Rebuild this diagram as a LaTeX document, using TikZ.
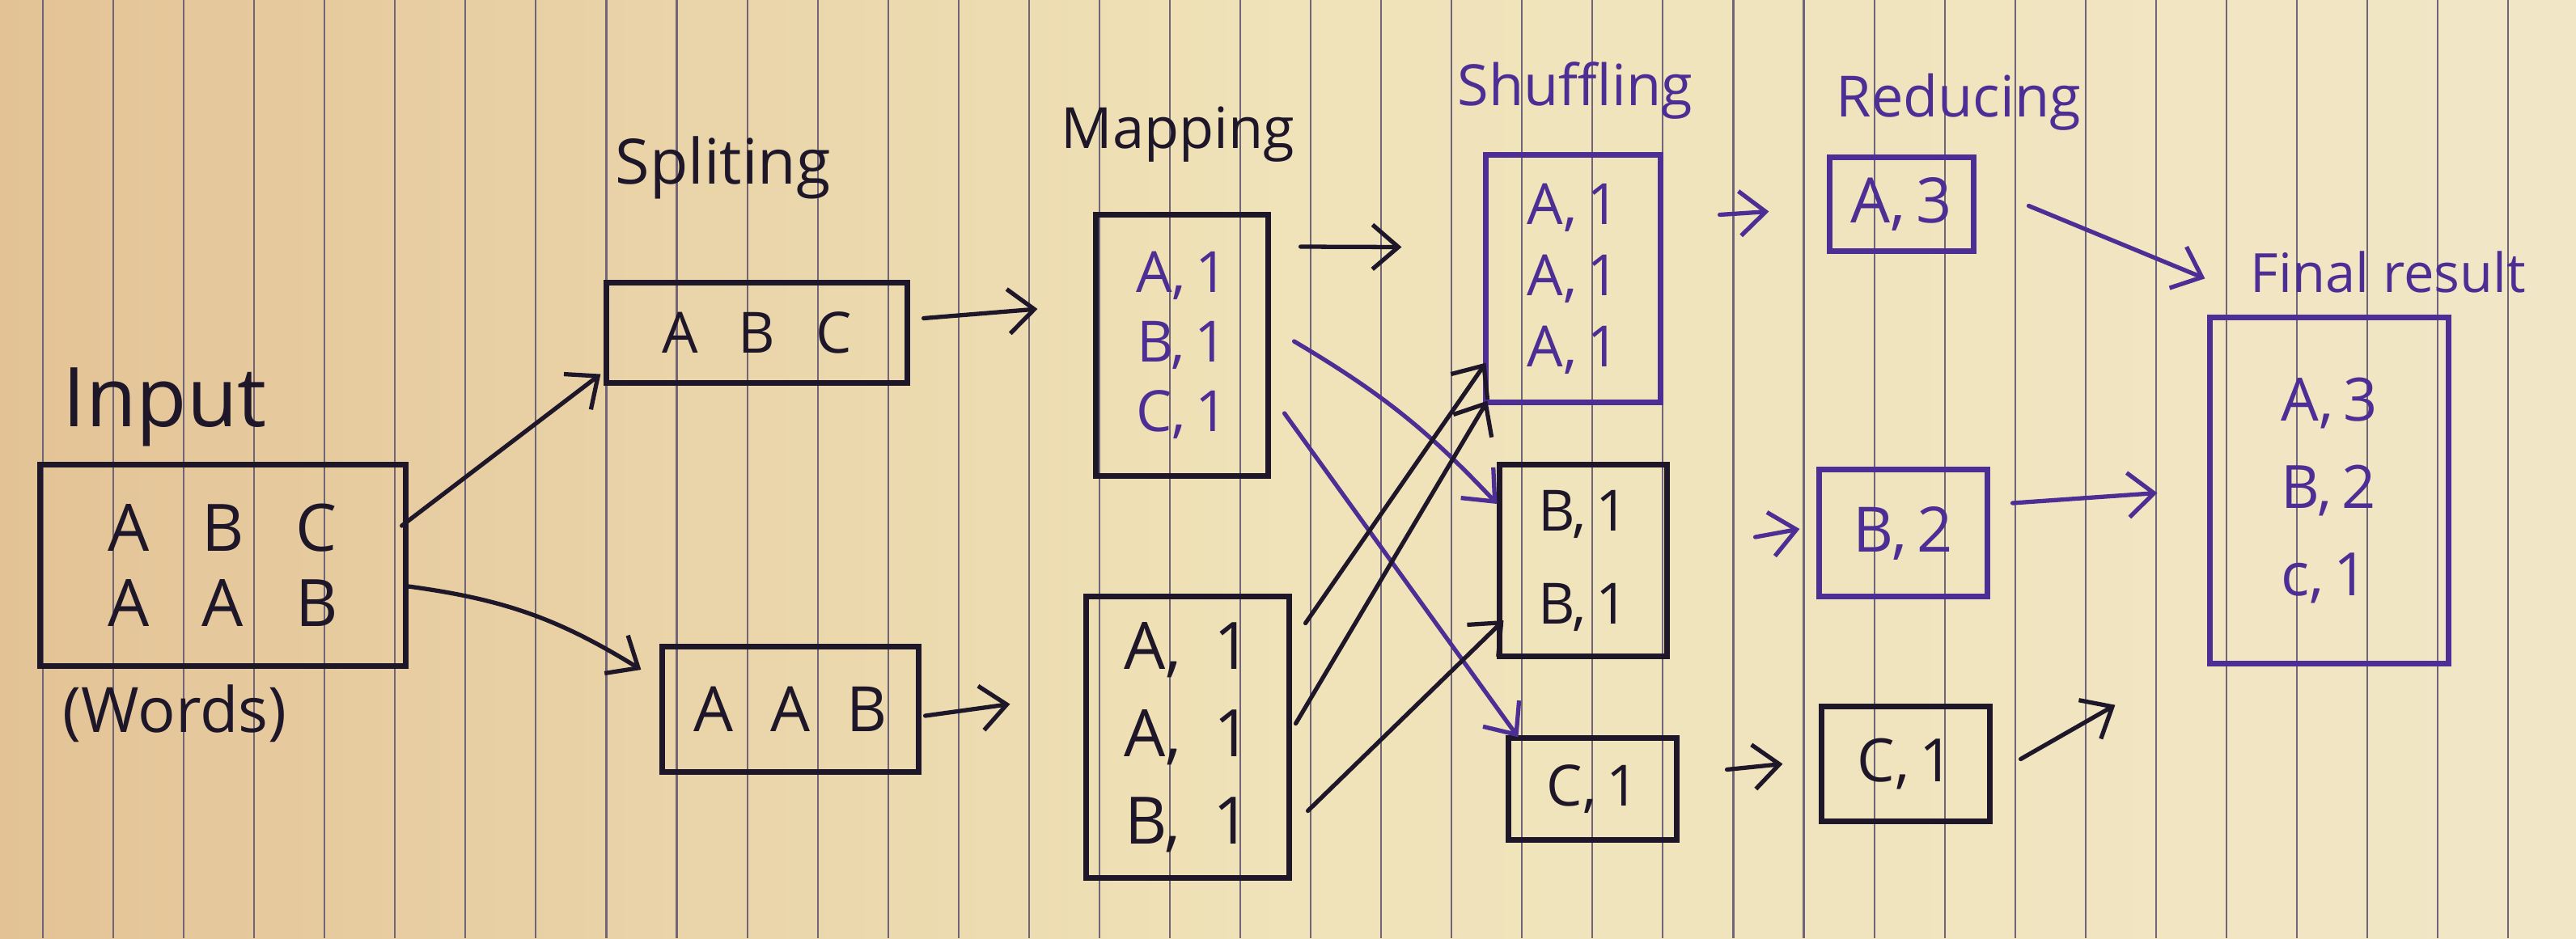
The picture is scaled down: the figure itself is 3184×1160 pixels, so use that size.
\documentclass[tikz,border=0pt]{standalone}
\usepackage{fontspec}
\setmainfont{Open Sans}
\usetikzlibrary{arrows.meta,calc}
\definecolor{paperL}{HTML}{E3C396}
\definecolor{paperM}{HTML}{F0E3B9}
\definecolor{paperR}{HTML}{F1E6C6}
\definecolor{rulecol}{HTML}{6F6478}
\definecolor{ink}{HTML}{1E1629}
\definecolor{purp}{HTML}{4C2E94}
\newcommand{\myfs}[2]{\fontsize{#1}{#2}\selectfont}
\newcommand{\mkcell}[1]{\makebox[33pt]{#1}}
\newcommand{\mkcellb}[1]{\makebox[27pt]{#1}}
\begin{document}
\begin{tikzpicture}[x=0.01cm,y=-0.01cm,
  box/.style={draw, line width=2pt, inner sep=0pt, align=center},
  arr/.style={-{Straight Barb[length=3.2mm,width=5.5mm]}, line width=1.5pt, line cap=round},
  lbl/.style={anchor=base west, inner sep=0pt}]
\useasboundingbox (0,0) rectangle (3184,1160);
\shade[left color=paperL, right color=paperR, middle color=paperM] (0,0) rectangle (3184,1160);
\foreach \k in {0,...,36} \draw[rulecol, line width=0.6pt] ({53+87.06*\k},0) -- ({53+87.06*\k},1160);

% labels
\node[lbl, ink, font=\myfs{29}{29}] (lin) at (77,527) {Input};
\node[lbl, ink, font=\myfs{22}{22}] (lwords) at (77,905) {(Words)};
\node[lbl, ink, font=\myfs{22}{22}] (lsplit) at (760,227) {Spliting};
\node[lbl, ink, font=\myfs{20}{20}] (lmap) at (1311,183) {Mapping};
\node[lbl, purp, font=\myfs{20}{20}] (lshuf) at (1801,130) {Shuffling};
\node[lbl, purp, font=\myfs{20}{20}] (lred) at (2269,144) {Reducing};
\node[lbl, purp, font=\myfs{19}{19}] (lfin) at (2781,361) {Final result};

% boxes
\node[box, ink, minimum width=4.51cm, minimum height=2.48cm, font=\myfs{23}{26.5}] (in) at (275.5,699)
  {\mkcell{A}\mkcell{B}\mkcell{C}\\\mkcell{A}\mkcell{A}\mkcell{B}};
\node[box, ink, minimum width=3.71cm, minimum height=1.23cm, font=\myfs{20}{20}] (sp1) at (935.5,411.5)
  {\mkcellb{A}\mkcellb{B}\mkcellb{C}};
\node[box, ink, minimum width=3.16cm, minimum height=1.54cm, font=\myfs{22}{22}] (sp2) at (977,877)
  {\mkcellb{A}\mkcellb{A}\mkcellb{B}};
\node[box, ink, text=purp, minimum width=2.12cm, minimum height=3.22cm, font=\myfs{20}{24.5}] (m1) at (1461,427)
  {A,\,1\\B,\,1\\C,\,1};
\node[box, ink, minimum width=2.50cm, minimum height=3.47cm, font=\myfs{23}{30.7}] (m2) at (1468,911.5)
  {A,\enspace1\\A,\enspace1\\B,\enspace1};
\node[box, purp, minimum width=2.15cm, minimum height=3.05cm, font=\myfs{20}{25}] (s1) at (1944.5,344.5)
  {A,\,1\\A,\,1\\A,\,1};
\node[box, ink, minimum width=2.06cm, minimum height=2.36cm, font=\myfs{20}{32.7}] (s2) at (1957,693)
  {B,\,1\\B,\,1};
\node[box, ink, minimum width=2.07cm, minimum height=1.25cm, font=\myfs{20}{20}] (s3) at (1968.5,975.5)
  {C,\,1};
\node[box, purp, minimum width=1.77cm, minimum height=1.15cm, font=\myfs{22}{22}] (r1) at (2350.5,252.5)
  {A,\,3};
\node[box, purp, minimum width=2.07cm, minimum height=1.56cm, font=\myfs{22}{22}] (r2) at (2352.5,659)
  {B,\,2};
\node[box, ink, minimum width=2.07cm, minimum height=1.41cm, font=\myfs{21}{21}] (r3) at (2355.5,944.5)
  {C,\,1};
\node[box, purp, minimum width=2.94cm, minimum height=4.27cm, font=\myfs{21}{30.8}, align=left] (fin) at (2879,606.5)
  {A,\,3\\B,\,2\\c,\,1};

% arrows
\draw[arr, ink] ($(in.east)+(-8,-49)$) -- ($(sp1.south west)+(-4,-14)$);
\draw[arr, ink] ($(in.east)+(0,26)$) to[bend left=12] ($(sp2.west)+(-23,-49)$);
\draw[arr, ink] ($(sp1.east)+(17,-18)$) -- ($(m1.west)+(-69,-45)$);
\draw[arr, ink] ($(sp2.east)+(5,8)$) -- ($(m2.west)+(-91,-41)$);
\draw[arr, ink] ($(m1.east)+(37,-122)$) -- ($(s1.west)+(-101,-39)$);
\draw[arr, purp] ($(m1.east)+(29,-5)$) to[bend left=8] ($(s2.west)+(0,-70)$);
\draw[arr, purp] ($(m1.east)+(17,84)$) -- ($(s3.north west)+(15,2)$);
\draw[arr, ink] ($(m2.east)+(17,-141)$) -- ($(s1.south west)+(3,-52)$);
\draw[arr, ink] ($(m2.east)+(5,-17)$) -- ($(s1.south west)+(5,-5)$);
\draw[arr, ink] ($(m2.east)+(20,91)$) -- ($(s2.west)+(8,74)$);
\draw[arr, purp] ($(s1.east)+(70,-79)$) -- ($(r1.west)+(-72,9)$);
\draw[arr, purp] ($(s2.east)+(106,-29)$) -- ($(r2.west)+(-21,-5)$);
\draw[arr, ink] ($(s3.east)+(59,-24)$) -- ($(r3.west)+(-45,0)$);
\draw[arr, purp] ($(r1.east)+(65,2)$) -- ($(fin.north west)+(-3,-45)$);
\draw[arr, purp] ($(r2.east)+(28,-37)$) -- ($(fin.west)+(-62,3)$);
\draw[arr, ink] ($(r3.east)+(35,-6)$) -- ($(fin.south west)+(-114,48)$);
\end{tikzpicture}
\end{document}
